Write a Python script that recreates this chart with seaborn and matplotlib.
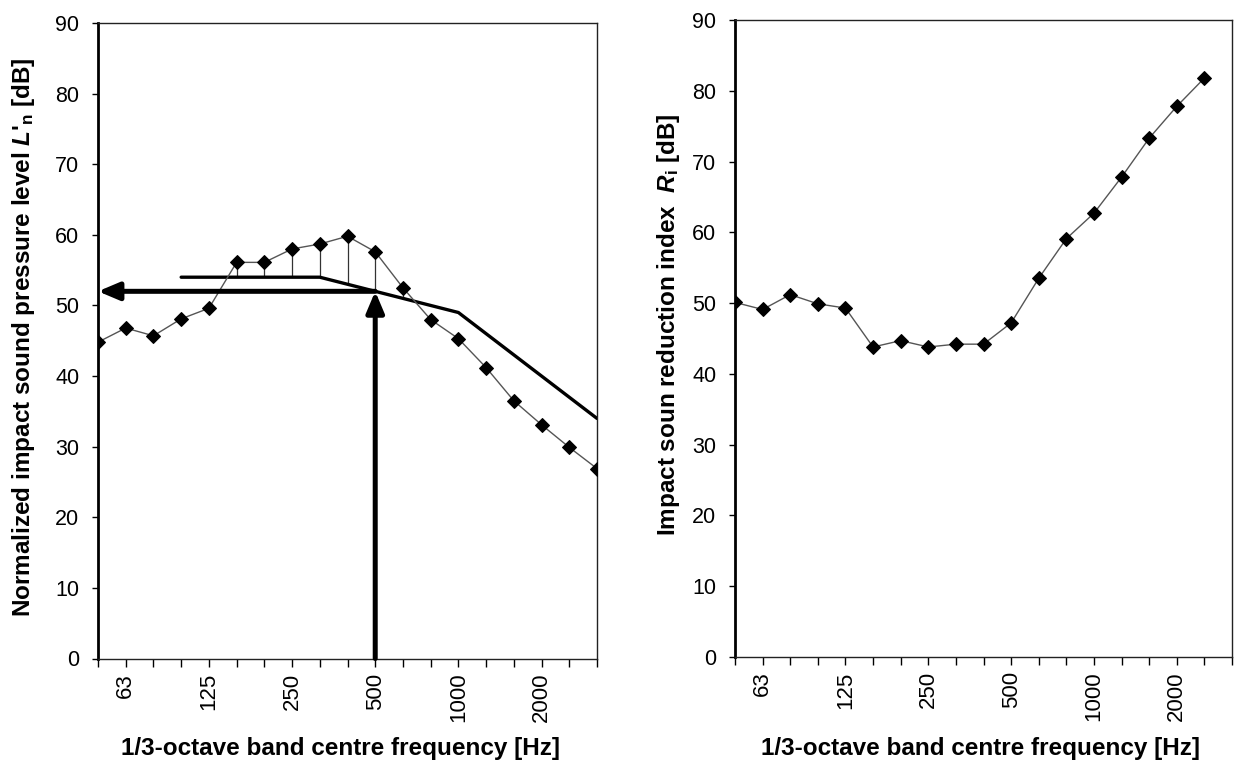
import numpy as np
import pandas as pd
import matplotlib
matplotlib.use("Agg")
import matplotlib.pyplot as plt
import seaborn as sns

# ---------------- data ----------------
bands = [50, 63, 80, 100, 125, 160, 200, 250, 315, 400, 500, 630, 800,
         1000, 1250, 1600, 2000, 2500, 3150]
octave_labels = ["63", "125", "250", "500", "1000", "2000"]

# normalized impact sound pressure level L'n [dB]
ln_measured = [44.8, 46.8, 45.7, 48.1, 49.6, 56.1, 56.1, 58.0, 58.7, 59.8,
               57.6, 52.5, 48.0, 45.3, 41.2, 36.5, 33.1, 29.9, 26.9]
# shifted reference curve (ISO 717-2), 100 .. 3150 Hz
ref_bands = [100, 125, 160, 200, 250, 315, 400, 500, 630, 800, 1000, 1250,
             1600, 2000, 2500, 3150]
ref_values = [54, 54, 54, 54, 54, 54, 53, 52, 51, 50, 49, 46, 43, 40, 37, 34]
lnw_value = 52
lnw_band = 500

# impact sound reduction index Ri [dB], 50 .. 2500 Hz
ri_bands = bands[:18]
ri_values = [50.1, 49.1, 51.2, 49.9, 49.3, 43.8, 44.7, 43.8, 44.2, 44.2,
             47.2, 53.5, 59.1, 62.7, 67.8, 73.3, 77.8, 81.8]

# ---------------- style ----------------
sns.set_style("ticks")
plt.rcParams["font.family"] = ["Liberation Sans", "DejaVu Sans"]
plt.rcParams["mathtext.fontset"] = "custom"
plt.rcParams["mathtext.rm"] = "Liberation Sans:bold"
plt.rcParams["mathtext.it"] = "Liberation Sans:bold:italic"
plt.rcParams["mathtext.bf"] = "Liberation Sans:bold"
plt.rcParams["text.color"] = "black"
plt.rcParams["axes.labelcolor"] = "black"
plt.rcParams["xtick.color"] = "black"
plt.rcParams["ytick.color"] = "black"

W, H = 1234, 764
fig = plt.figure(figsize=(W / 100, H / 100), dpi=100)
fig.patch.set_facecolor("white")

def px_axes(x0, x1, ytop, ybot):
    return fig.add_axes([x0 / W, (H - ybot) / H, (x1 - x0) / W, (ybot - ytop) / H])

ax1 = px_axes(98, 597, 23, 658.5)
ax2 = px_axes(735, 1232, 20, 657)

idx = {b: i for i, b in enumerate(bands)}

df_ln = pd.DataFrame({"pos": [idx[b] for b in bands], "val": ln_measured})
df_ref = pd.DataFrame({"pos": [idx[b] for b in ref_bands], "val": ref_values})
df_ri = pd.DataFrame({"pos": [idx[b] for b in ri_bands], "val": ri_values})

# ---- left plot ----
# unfavourable deviations
ref_map = dict(zip(ref_bands, ref_values))
dev_x, dev_lo, dev_hi = [], [], []
for b, v in zip(bands, ln_measured):
    if b in ref_map and v > ref_map[b]:
        dev_x.append(idx[b]); dev_lo.append(ref_map[b]); dev_hi.append(v)
ax1.vlines(dev_x, dev_lo, dev_hi, color="#333333", lw=0.9, zorder=2)

sns.lineplot(data=df_ref, x="pos", y="val", ax=ax1, color="black", lw=2.4,
             zorder=3, legend=False)
sns.lineplot(data=df_ln, x="pos", y="val", ax=ax1, color="#555555", lw=1.0,
             marker="D", markersize=7, markerfacecolor="black",
             markeredgecolor="black", zorder=4, legend=False)

# arrows for single-number value
xa = idx[lnw_band]
arrow_kw = dict(arrowstyle="-|>,head_length=0.9,head_width=0.38", lw=3.6,
                color="black", shrinkA=0, shrinkB=0, mutation_scale=14)
ax1.annotate("", xy=(0, lnw_value), xytext=(xa, lnw_value),
             arrowprops=arrow_kw, zorder=5)
ax1.annotate("", xy=(xa, lnw_value), xytext=(xa, 0),
             arrowprops=arrow_kw, zorder=5)

# ---- right plot ----
sns.lineplot(data=df_ri, x="pos", y="val", ax=ax2, color="#555555", lw=1.0,
             marker="D", markersize=7, markerfacecolor="black",
             markeredgecolor="black", zorder=4, legend=False)

# ---- axes formatting ----
LABEL_FS = 17.5
tick_labels = [str(b) if str(b) in octave_labels else "" for b in bands]
for ax in (ax1, ax2):
    ax.set_xlim(0, len(bands) - 1)
    ax.set_ylim(0, 90)
    ax.set_xticks(range(len(bands)))
    ax.set_xticklabels(tick_labels, rotation=90, fontsize=16, va="top")
    ax.set_yticks(range(0, 91, 10))
    ax.tick_params(axis="y", labelsize=15.5, length=4.5, width=1,
                   direction="out", pad=9, colors="black")
    ax.tick_params(axis="x", length=5.8, width=1, direction="out", pad=4.5,
                   colors="black")
    for s in ("top", "right", "bottom"):
        ax.spines[s].set_visible(True)
        ax.spines[s].set_linewidth(1.0)
        ax.spines[s].set_color("#222222")
    ax.spines["left"].set_linewidth(2.0)
    ax.spines["left"].set_color("black")
    ax.set_xlabel("1/3-octave band centre frequency [Hz]", fontsize=LABEL_FS,
                  fontweight="bold", color="black")
    ax.grid(False)
    ax.set_facecolor("white")

ax1.set_ylabel("Normalized impact sound pressure level $L$'$_{\\mathrm{n}}$ [dB]",
               fontsize=LABEL_FS, fontweight="bold", color="black")
ax2.set_ylabel("Impact soun reduction index  $R_{\\mathrm{i}}$ [dB]",
               fontsize=LABEL_FS, fontweight="bold", color="black")

ax1.yaxis.set_label_coords(-0.150, 0.505)
ax2.yaxis.set_label_coords(-0.133, 0.521)
ax1.xaxis.set_label_coords(0.485, -0.141)
ax2.xaxis.set_label_coords(0.493, -0.143)
for ax in (ax1, ax2):
    ax.xaxis.label.set_va("center")
    ax.yaxis.label.set_va("center")

fig.savefig("out.png", dpi=100, facecolor="white")
